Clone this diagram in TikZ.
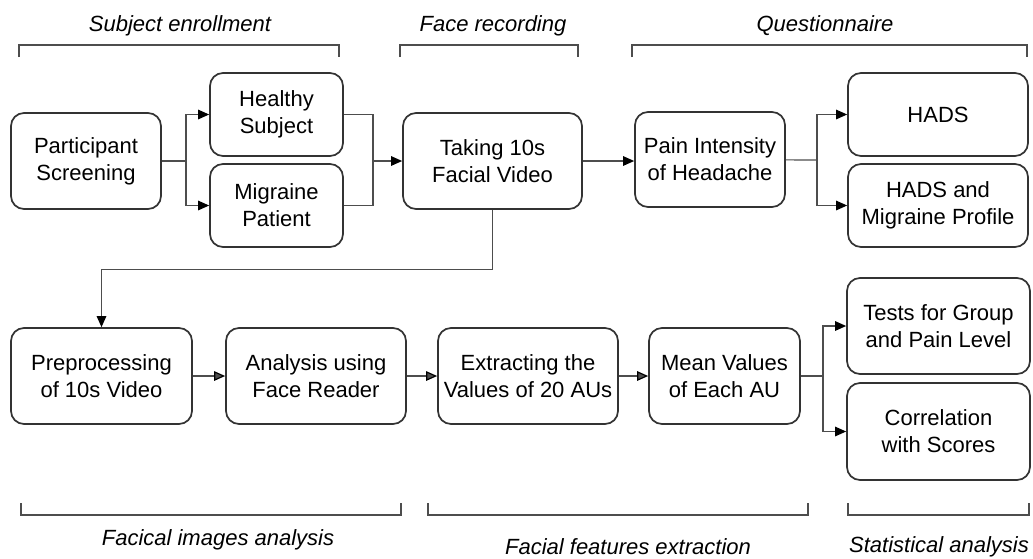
\documentclass[tikz,border=0pt]{standalone}
\usepackage{fontspec}
\setmainfont{Liberation Sans}
\usetikzlibrary{arrows.meta}
\definecolor{boxgray}{HTML}{333333}
\definecolor{linegray}{HTML}{4D4D4D}

\begin{document}
\begin{tikzpicture}[x=1pt,y=-1pt,>={Triangle[length=11pt,width=9.5pt,color=black]},
    main node/.style={draw=boxgray,line width=1.7pt,rounded corners=13pt,align=center,inner sep=0pt,text=black,
        minimum width=180pt,minimum height=96pt,font=\fontsize{22}{27}\selectfont},
    half node/.style={main node,minimum height=83pt},
    phase label/.style={font=\fontsize{22}{27}\selectfont\itshape,text=black},
    link/.style={color=linegray,line width=1.2pt},
    bracket/.style={draw=linegray,line width=1.2pt}]
    \useasboundingbox (0,0) rectangle (1033,558);

    % top row
    \node[main node,minimum width=150pt] (1) at (86,161) {Participant\\Screening};
    \node[half node,minimum width=133pt] (2) at (276.5,114.5) {Healthy\\Subject};
    \node[half node,minimum width=133pt] (3) at (276.5,205.5) {Migraine\\Patient};
    \node[main node,minimum width=179pt] (4) at (492.5,161) {Taking 10s\\Facial Video};
    \node[main node,minimum width=150pt,minimum height=95pt] (5) at (710,159.5) {Pain Intensity\\of Headache};
    \node[half node] (6) at (938,114.5) {HADS};
    \node[half node] (7) at (938,205.5) {HADS and\\Migraine Profile};

    % bottom row
    \node[main node,minimum width=181pt] (8) at (101.5,376) {Preprocessing\\of 10s Video};
    \node[main node] (9) at (316,376) {Analysis using\\Face Reader};
    \node[main node] (10) at (528,376) {Extracting the\\Values of 20 AUs};
    \node[main node,minimum width=151pt] (11) at (724.5,376) {Mean Values\\of Each AU};
    \node[main node,minimum width=183pt] (12) at (938.5,326) {Tests for Group\\and Pain Level};
    \node[main node,minimum width=183pt,minimum height=97pt] (13) at (938.5,431.5) {Correlation\\with Scores};

    % phases
    \node[phase label] (t1) at (180,26) {Subject enrollment};
    \node[phase label] (t2) at (493,26) {Face recording};
    \node[phase label] (t3) at (825,26) {Questionnaire};
    \node[phase label] (t4) at (218,540) {Facical images analysis};
    \node[phase label] (t5) at (628,547) {Facial features extraction};
    \node[phase label] (t6) at (939,547) {Statistical analysis};

    \draw[bracket] (19,57) |- (339,45) -- (339,57);
    \draw[bracket] (400,57) |- (578,45) -- (578,57);
    \draw[bracket] (632,57) |- (1027,45) -- (1027,57);
    \draw[bracket] (21,503) |- (401,515) -- (401,503);
    \draw[bracket] (428,503) |- (808,515) -- (808,503);
    \draw[bracket] (848,503) |- (1029,515) -- (1029,503);

    \coordinate (f1) at (186,161);
    \coordinate (j1) at (373,161);
    \coordinate (f2) at (817,160);
    \coordinate (f3) at (823,376);

    \draw[link] (1) -- (f1);
    \draw[link,->] (f1) |- (2);
    \draw[link,->] (f1) |- (3);
    \draw[link] (2.east) -| (j1) |- (3.east);
    \draw[link,->] (j1) -- (4);
    \draw[link,->] (4) -- (4 -| 5.west);
    \draw[link] (5) -- (f2);
    \draw[link,->] (f2) |- (6);
    \draw[link,->] (f2) |- (7);
    \draw[link,->] (4.south) -- ++(0,60) -| (8);

    \path[link,->]
        (8) edge (9)
        (9) edge (10)
        (10) edge (11)
    ;
    \draw[link] (11) -- (f3);
    \draw[link,->] (f3) |- (12);
    \draw[link,->] (f3) |- (13);
\end{tikzpicture}
\end{document}
